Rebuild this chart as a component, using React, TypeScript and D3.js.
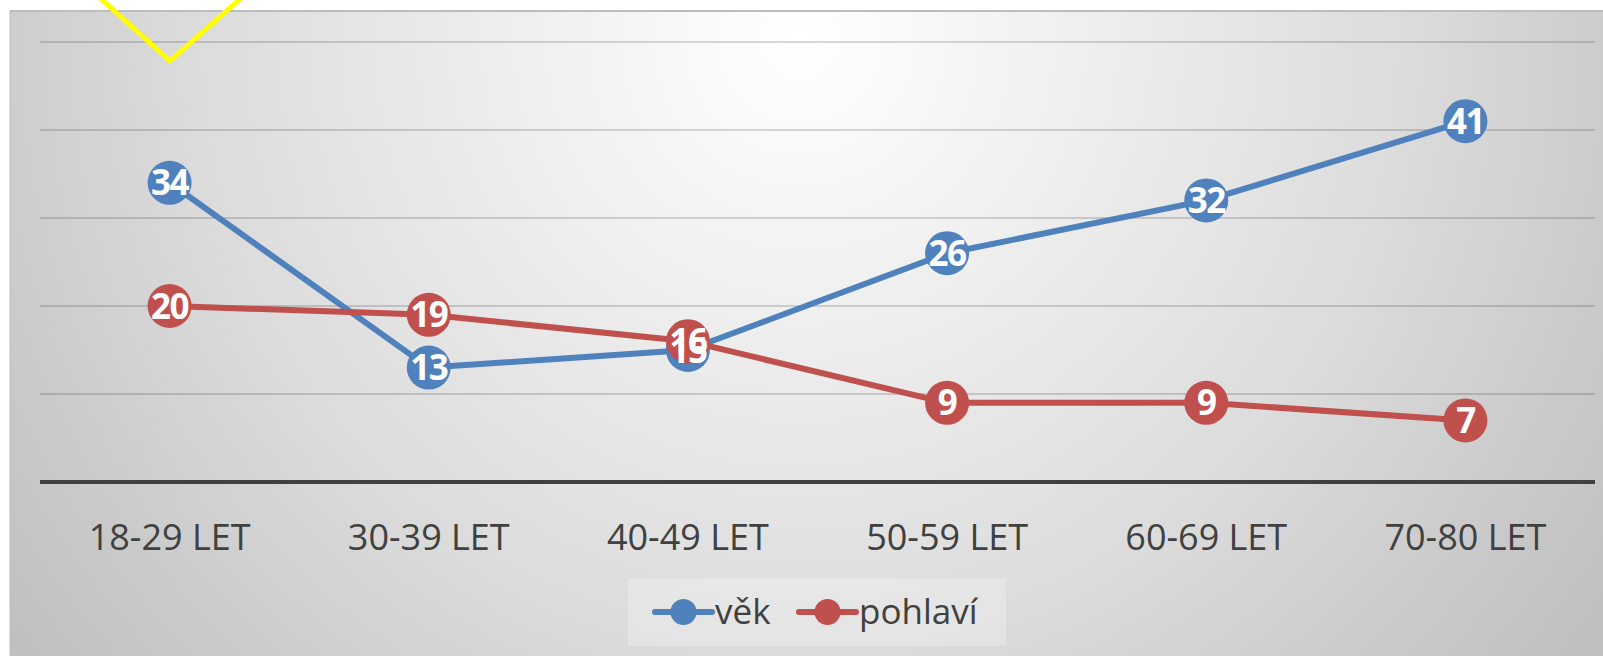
import React, { useRef, useEffect } from 'react';
import * as d3 from 'd3';

const categories = ['18-29 LET', '30-39 LET', '40-49 LET', '50-59 LET', '60-69 LET', '70-80 LET'];
const vek = [34, 13, 15, 26, 32, 41];
const pohlavi = [20, 19, 16, 9, 9, 7];
const yTicks = [10, 20, 30, 40, 50];

const series = [
  { name: 'věk', values: vek, color: '#4f81bd' },
  { name: 'pohlaví', values: pohlavi, color: '#c0504d' },
];

const App = () => {
  const svgRef = useRef<SVGSVGElement>(null);

  useEffect(() => {
    const width = 1603;
    const height = 656;
    const plot = { left: 40, right: 1595, top: 42, bottom: 482 };

    const svg = d3.select(svgRef.current)
      .attr('width', width)
      .attr('height', height);
    svg.selectAll('*').remove();

    // fond dégradé radial
    const defs = svg.append('defs');
    const grad = defs.append('radialGradient')
      .attr('id', 'bg')
      .attr('gradientUnits', 'userSpaceOnUse')
      .attr('cx', 800).attr('cy', 40).attr('r', 1000);
    grad.append('stop').attr('offset', '0').attr('stop-color', '#ffffff');
    grad.append('stop').attr('offset', '0.6').attr('stop-color', '#dcdcdc');
    grad.append('stop').attr('offset', '0.85').attr('stop-color', '#c9c9c9');
    grad.append('stop').attr('offset', '1').attr('stop-color', '#bfbfbf');

    svg.append('rect')
      .attr('x', 10).attr('y', 11)
      .attr('width', width - 10).attr('height', height - 11)
      .attr('fill', 'url(#bg)');
    svg.append('line')
      .attr('x1', 10).attr('x2', width)
      .attr('y1', 11).attr('y2', 11)
      .attr('stroke', '#bdbdbd').attr('stroke-width', 2);
    svg.append('line')
      .attr('x1', 10).attr('x2', 10)
      .attr('y1', 11).attr('y2', height)
      .attr('stroke', '#bcbcbc').attr('stroke-width', 1);

    const x = d3.scaleBand()
      .domain(categories)
      .range([plot.left, plot.right]);

    const y = d3.scaleLinear()
      .domain([0, 50])
      .range([plot.bottom, plot.top]);

    // lignes de grille
    svg.append('g')
      .selectAll('line')
      .data(yTicks)
      .enter()
      .append('line')
      .attr('x1', plot.left).attr('x2', plot.right)
      .attr('y1', d => y(d)).attr('y2', d => y(d))
      .attr('stroke', 'rgba(0,0,0,0.15)')
      .attr('stroke-width', 2);

    // axe X
    svg.append('line')
      .attr('x1', plot.left).attr('x2', plot.right)
      .attr('y1', y(0)).attr('y2', y(0))
      .attr('stroke', '#404040')
      .attr('stroke-width', 4);

    svg.append('g')
      .selectAll('text')
      .data(categories)
      .enter()
      .append('text')
      .attr('x', d => (x(d) as number) + x.bandwidth() / 2)
      .attr('y', 537)
      .attr('dy', '0.35em')
      .attr('text-anchor', 'middle')
      .attr('font-family', '"Open Sans", sans-serif')
      .attr('font-size', 36)
      .attr('fill', '#404040')
      .text(d => d);

    const cx = (i: number) => (x(categories[i]) as number) + x.bandwidth() / 2;

    const line = d3.line<number>()
      .x((_, i) => cx(i))
      .y(d => y(d));

    series.forEach(s => {
      const g = svg.append('g');
      g.append('path')
        .datum(s.values)
        .attr('fill', 'none')
        .attr('stroke', s.color)
        .attr('stroke-width', 6)
        .attr('stroke-linejoin', 'round')
        .attr('d', line);
      g.selectAll('circle')
        .data(s.values)
        .enter()
        .append('circle')
        .attr('cx', (_, i) => cx(i))
        .attr('cy', d => y(d))
        .attr('r', 22)
        .attr('fill', s.color);
    });

    // étiquettes de données
    series.forEach(s => {
      svg.append('g')
        .selectAll('text')
        .data(s.values)
        .enter()
        .append('text')
        .attr('x', (_, i) => cx(i))
        .attr('y', d => y(d))
        .attr('dy', '0.36em')
        .attr('text-anchor', 'middle')
        .attr('font-family', '"Open Sans", sans-serif')
        .attr('font-weight', 'bold')
        .attr('font-size', 35)
        .attr('letter-spacing', -1.5)
        .attr('fill', 'white')
        .text(d => d);
    });

    // légende
    const legend = svg.append('g');
    legend.append('rect')
      .attr('x', 628).attr('y', 578)
      .attr('width', 378).attr('height', 68)
      .attr('fill', 'rgba(255,255,255,0.25)');
    const legendX = [655, 799];
    series.forEach((s, i) => {
      const lx = legendX[i];
      legend.append('line')
        .attr('x1', lx).attr('x2', lx + 57)
        .attr('y1', 612).attr('y2', 612)
        .attr('stroke', s.color)
        .attr('stroke-width', 6)
        .attr('stroke-linecap', 'round');
      legend.append('circle')
        .attr('cx', lx + 28.5).attr('cy', 612)
        .attr('r', 13)
        .attr('fill', s.color);
      legend.append('text')
        .attr('x', lx + 60)
        .attr('y', 612)
        .attr('dy', '0.35em')
        .attr('font-family', '"Open Sans", sans-serif')
        .attr('font-size', 35)
        .attr('fill', '#404040')
        .text(s.name);
    });

    // forme jaune en haut à gauche
    svg.append('path')
      .attr('d', d3.line()([[100, -2], [170, 61], [241, -2]]))
      .attr('fill', 'none')
      .attr('stroke', '#ffff00')
      .attr('stroke-width', 5);
  }, []);

  return (
    <div style={{ position: 'absolute', left: 0, top: 0 }}>
      <svg ref={svgRef} style={{ display: 'block' }}></svg>
    </div>
  );
};

export default App;
